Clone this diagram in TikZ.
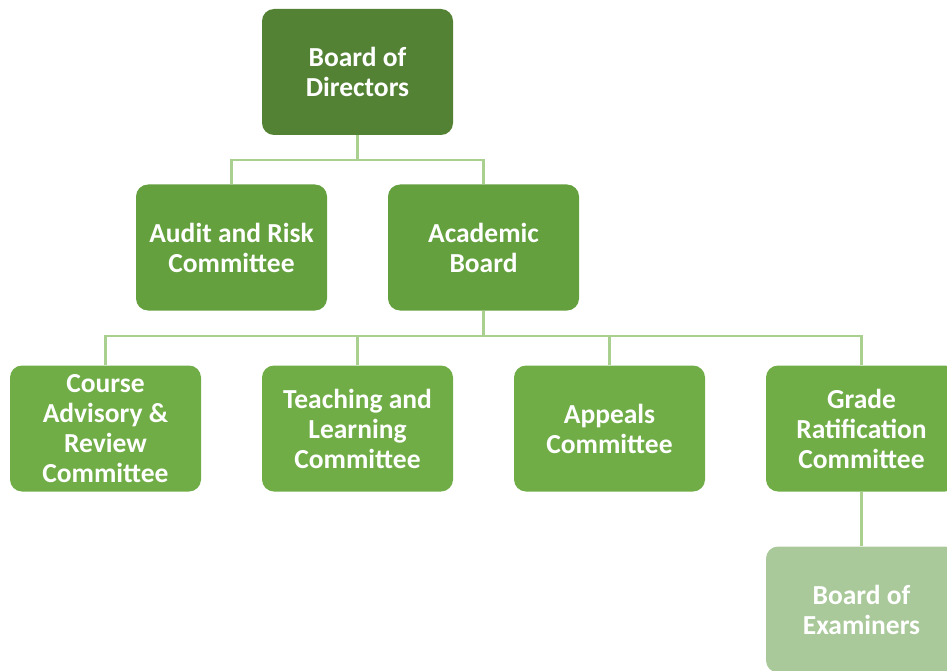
\documentclass[tikz,border=0pt]{standalone}
\usepackage{fontspec}
\setmainfont{Carlito}
\usepackage{tikz}
\definecolor{topgreen}{HTML}{548235}
\definecolor{midgreen}{HTML}{64A03E}
\definecolor{lowgreen}{HTML}{70AD47}
\definecolor{palegreen}{HTML}{A9C99A}
\definecolor{linkgreen}{HTML}{A9D08E}
\tikzset{
    unit/.style={rounded corners=12pt, minimum width=191pt, minimum height=126pt,
        inner sep=0pt, text=white, align=center,
        font=\fontsize{27.5}{30}\selectfont\bfseries},
    link/.style={linkgreen, line width=2.2pt},
}

\begin{document}
\begin{tikzpicture}[x=1pt,y=-1pt]
\useasboundingbox (0,0) rectangle (947,671);
\clip (0,0) rectangle (947,671);

\node[unit, fill=topgreen] (bod) at (357.5,72) {Board of\\Directors};
\node[unit, fill=midgreen] (audit) at (231.5,247.5) {Audit and Risk\\Committee};
\node[unit, fill=midgreen] (acad) at (483.5,247.5) {Academic\\Board};
\node[unit, fill=lowgreen] (course) at (105.5,428.5) {Course\\Advisory \&\\Review\\Committee};
\node[unit, fill=lowgreen] (teach) at (357.5,428.5) {Teaching and\\Learning\\Committee};
\node[unit, fill=lowgreen] (appeals) at (609.5,428.5) {Appeals\\Committee};
\node[unit, fill=lowgreen] (grade) at (861.5,428.5) {Grade\\Ratification\\Committee};
\node[unit, fill=palegreen] (exam) at (861.5,609.5) {Board of\\Examiners};

\coordinate (j1) at (357.5,160);
\coordinate (j2) at (483.5,336);
\draw[link] (bod.south) -- (j1) -| (audit.north);
\draw[link] (j1) -| (acad.north);
\draw[link] (acad.south) -- (j2) -| (course.north);
\draw[link] (j2) -| (teach.north);
\draw[link] (j2) -| (appeals.north);
\draw[link] (j2) -| (grade.north);
\draw[link] (grade.south) -- (exam.north);
\end{tikzpicture}
\end{document}
